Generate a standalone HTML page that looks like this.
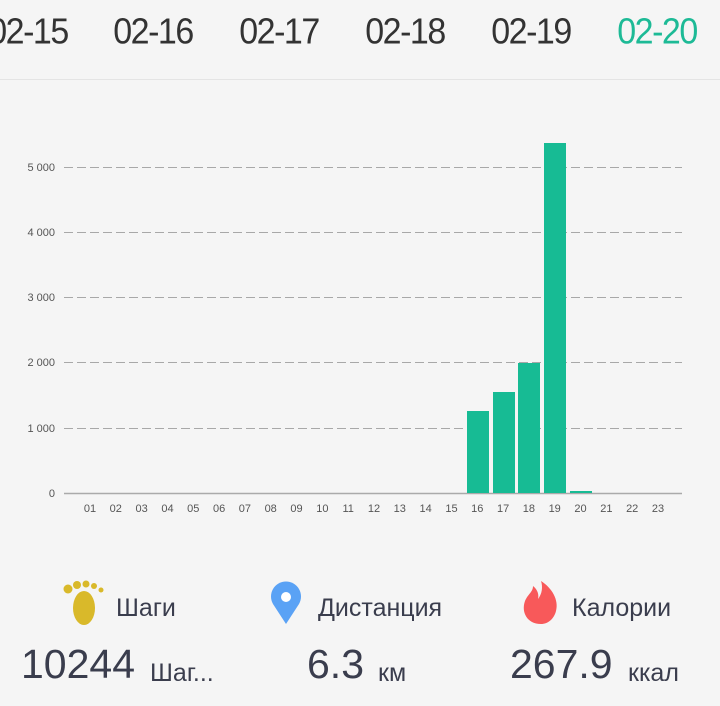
<!DOCTYPE html>
<html><head><meta charset="utf-8"><style>
body{margin:0;width:720px;height:706px;background:#f5f5f5;font-family:"Liberation Sans",sans-serif;overflow:hidden;position:relative}
.hdr{position:absolute;left:0;top:0;width:720px;height:79px;background:#f5f5f5;border-bottom:1px solid #e4e4e4}
.d{position:absolute;top:13px;font-size:34px;letter-spacing:-1.5px;color:#333;transform:translateX(-50%) scaleY(1.05);white-space:nowrap}
.t{position:absolute;font-size:25px;color:#3a3d4d;white-space:nowrap}
.v{position:absolute;font-size:41px;color:#3a3d4d;white-space:nowrap}
</style></head><body>
<div class="hdr">
<div class="d" style="left:28px">02-15</div>
<div class="d" style="left:153px">02-16</div>
<div class="d" style="left:279px">02-17</div>
<div class="d" style="left:405px">02-18</div>
<div class="d" style="left:531px">02-19</div>
<div class="d" style="left:657px;color:#1dba96">02-20</div>
</div>
<svg style="position:absolute;left:0;top:0" width="720" height="706" font-family="Liberation Sans, sans-serif">
<g stroke="#a8a8a8" stroke-width="1" stroke-dasharray="9,4">
<line x1="64" x2="682" y1="167.5" y2="167.5"/>
<line x1="64" x2="682" y1="232.5" y2="232.5"/>
<line x1="64" x2="682" y1="297.5" y2="297.5"/>
<line x1="64" x2="682" y1="362.5" y2="362.5"/>
<line x1="64" x2="682" y1="428.5" y2="428.5"/>
</g>
<line x1="64" x2="682" y1="493.5" y2="493.5" stroke="#aaa" stroke-width="1.5"/>
<g font-size="11" fill="#555" text-anchor="end">
<text x="55" y="171">5 000</text><text x="55" y="236">4 000</text><text x="55" y="301">3 000</text>
<text x="55" y="366">2 000</text><text x="55" y="432">1 000</text><text x="55" y="497">0</text>
</g>
<g font-size="11" fill="#555" text-anchor="middle">
<text x="90.0" y="512">01</text><text x="115.8" y="512">02</text><text x="141.6" y="512">03</text><text x="167.5" y="512">04</text><text x="193.3" y="512">05</text><text x="219.1" y="512">06</text><text x="244.9" y="512">07</text><text x="270.7" y="512">08</text><text x="296.5" y="512">09</text><text x="322.4" y="512">10</text><text x="348.2" y="512">11</text><text x="374.0" y="512">12</text><text x="399.8" y="512">13</text><text x="425.6" y="512">14</text><text x="451.5" y="512">15</text><text x="477.3" y="512">16</text><text x="503.1" y="512">17</text><text x="528.9" y="512">18</text><text x="554.7" y="512">19</text><text x="580.5" y="512">20</text><text x="606.4" y="512">21</text><text x="632.2" y="512">22</text><text x="658.0" y="512">23</text>
</g>
<g fill="#17bb94">
<rect x="467" y="411" width="22" height="82"/>
<rect x="493" y="392" width="22" height="101"/>
<rect x="518" y="363" width="22" height="130"/>
<rect x="544" y="143" width="22" height="350"/>
<rect x="570" y="491" width="22" height="2"/>
</g>
<g fill="#d9b92a">
<ellipse cx="84" cy="608" rx="11" ry="17"/>
<circle cx="68" cy="589" r="4.5"/><circle cx="77" cy="585" r="4"/><circle cx="86" cy="584" r="3.5"/><circle cx="94" cy="586" r="3"/><circle cx="101" cy="590" r="2.5"/>
</g>
<path d="M286 624 L273 604 A15 15 0 1 1 299 604 Z" fill="#5aa2f5"/>
<circle cx="286" cy="597" r="5" fill="#fff"/>
<path d="M541 624 C527 624 521 612 525 601 C528 594 533 592 533 586 C538 590 539 595 538 599 C542 594 543 587 541 581 C552 588 559 600 556 611 C554 619 548 624 541 624 Z" fill="#f8595a"/>
</svg>
<div class="t" style="left:116px;top:594px">Шаги</div>
<div class="t" style="left:318px;top:594px">Дистанция</div>
<div class="t" style="left:572px;top:594px">Калории</div>
<div class="v" style="left:21px;top:641px">10244</div>
<div class="t" style="left:150px;top:659px">Шаг...</div>
<div class="v" style="left:307px;top:641px">6.3</div>
<div class="t" style="left:378px;top:659px">км</div>
<div class="v" style="left:510px;top:641px">267.9</div>
<div class="t" style="left:628px;top:659px">ккал</div>
</body></html>
